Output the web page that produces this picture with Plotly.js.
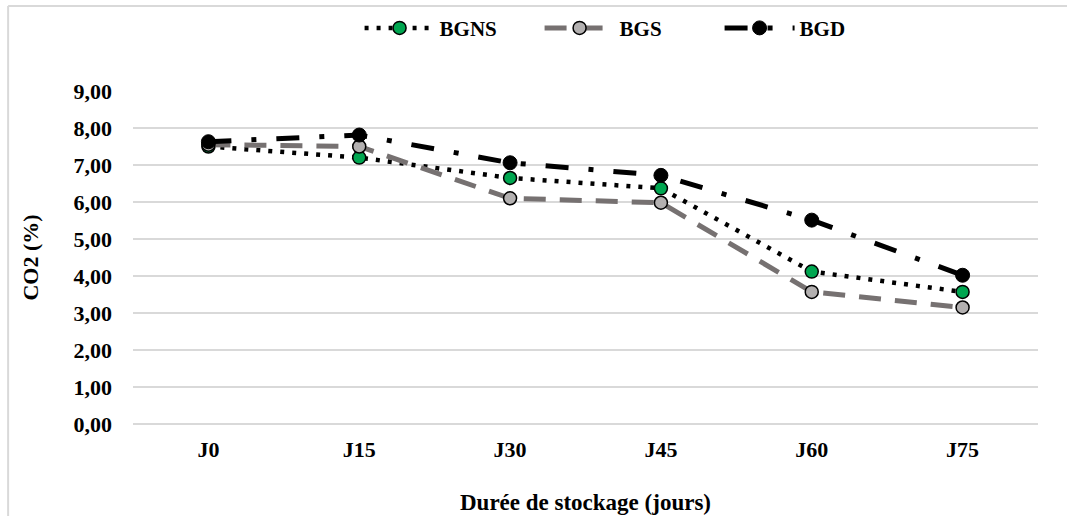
<!DOCTYPE html>
<html>
<head>
<meta charset="utf-8">
<script src="https://cdn.plot.ly/plotly-3.0.1.min.js"></script>
<style>html,body{margin:0;padding:0;background:#fff;}#chart{width:1067px;height:516px;}</style>
</head>
<body>
<div id="chart"></div>
<script>
const categories = ["J0", "J15", "J30", "J45", "J60", "J75"];
const bgns = [7.50, 7.20, 6.65, 6.37, 4.12, 3.57];
const bgs  = [7.55, 7.50, 6.10, 5.98, 3.57, 3.15];
const bgd  = [7.63, 7.81, 7.06, 6.72, 5.51, 4.02];
const yTicks = [0, 1, 2, 3, 4, 5, 6, 7, 8, 9];

const fam = "Liberation Serif, Times New Roman, serif";

const traces = [
  {x: categories, y: bgns, name: "<b>BGNS</b>", type: "scatter", mode: "lines+markers",
   line: {color: "#000", width: 4.5, dash: "4px,8px"},
   marker: {symbol: "circle", size: 13, color: "#00a650", line: {color: "#000", width: 1.5}}},
  {x: categories, y: bgs, name: "<b>BGS</b>", type: "scatter", mode: "lines+markers",
   line: {color: "#767171", width: 5, dash: "22px,14px"},
   marker: {symbol: "circle", size: 13, color: "#b3b0b0", line: {color: "#000", width: 1.5}}},
  {x: categories, y: bgd, name: "<b>BGD</b>", type: "scatter", mode: "lines+markers",
   line: {color: "#000", width: 5, dash: "23px,20px,5px,20px"},
   marker: {symbol: "circle", size: 14, color: "#000", line: {color: "#000", width: 1}}}
];

const layout = {
  width: 1067, height: 516,
  margin: {l: 133, r: 29, t: 91, b: 92, autoexpand: false},
  paper_bgcolor: "#fff", plot_bgcolor: "#fff",
  separators: ", ",
  font: {family: fam, size: 22, color: "#000"},
  showlegend: true,
  legend: {orientation: "h", xref: "container", yref: "container", x: 0.337, xanchor: "left", y: 0.985, yanchor: "top",
           font: {family: fam, size: 21, color: "#000"}, itemwidth: 70, entrywidth: 95, bgcolor: "rgba(0,0,0,0)"},
  xaxis: {type: "category", range: [-0.5, 5.5], showgrid: false, zeroline: false, automargin: false,
          showline: false, ticks: "", ticklabelstandoff: 10,
          tickfont: {family: fam, size: 22, color: "#000", weight: "bold"},
          title: {text: "<b>Durée de stockage (jours)</b>", font: {family: fam, size: 23, color: "#000"}, standoff: 32}},
  yaxis: {range: [0, 9], tickvals: yTicks, tickformat: ".2f", showgrid: true, gridcolor: "#d9d9d9", gridwidth: 2,
          zeroline: true, zerolinecolor: "#d9d9d9", zerolinewidth: 2, showline: false, ticks: "", automargin: false,
          ticklabelstandoff: 20,
          tickfont: {family: fam, size: 22, color: "#000", weight: "bold"},
          title: {text: "<b>CO2 (%)</b>", font: {family: fam, size: 22, color: "#000"}, standoff: 28}},
  shapes: [
    {type: "line", xref: "paper", yref: "paper", x0: -0.138, x1: -0.138, y0: -0.3, y1: 1.255, line: {color: "#d9d9d9", width: 2}},
    {type: "line", xref: "paper", yref: "paper", x0: -0.138, x1: 1.1, y0: 1.255, y1: 1.255, line: {color: "#d9d9d9", width: 2}}
  ]
};

Plotly.newPlot("chart", traces, layout, {displayModeBar: false, staticPlot: true});
</script>
</body>
</html>
